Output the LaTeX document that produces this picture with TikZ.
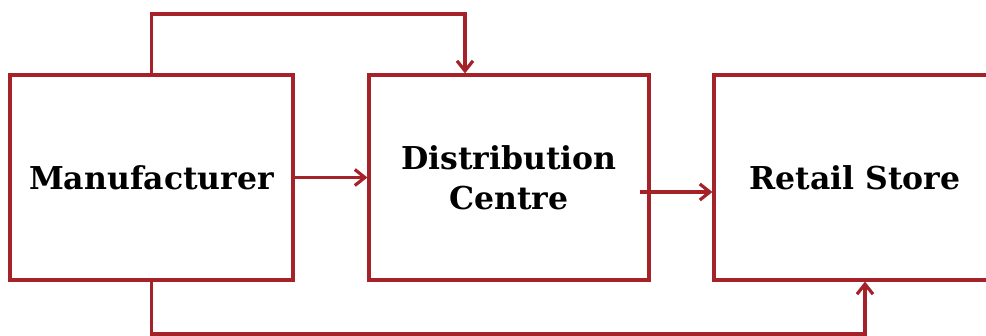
\documentclass[tikz,border=0pt]{standalone}
\usepackage{fontspec}
\setmainfont{DejaVu Serif}
\usetikzlibrary{arrows.meta}
\definecolor{boxred}{RGB}{165,35,40}
\begin{document}
\begin{tikzpicture}[x=1pt,y=-1pt,
  blk/.style={draw=boxred, line width=3.2pt, minimum height=205pt, inner sep=0pt,
    align=center, font=\fontsize{31.5}{40}\selectfont\bfseries},
  arr/.style={draw=boxred, line width=3.2pt, -{Straight Barb[length=10pt,width=16pt]}}]
\useasboundingbox (0,0) rectangle (986,336);
\clip (0,0) rectangle (986,336);
\node[blk, minimum width=283pt] (M) at (151.5,177.5) {Manufacturer};
\node[blk, minimum width=280pt] (D) at (509,177.5) {Distribution\\Centre};
\node[blk, minimum width=282pt] (R) at (855,177.5) {Retail Store};
\coordinate (t1) at (465,14);
\coordinate (a2) at (640,192);
\coordinate (b1) at (865,334);
\draw[arr] (M.north) |- (t1) -- (t1 |- D.north);
\draw[arr] (M.east) -- (D.west);
\draw[arr] (a2) -- (a2 -| R.west);
\draw[arr] (M.south) |- (b1) -- (b1 |- R.south);
\end{tikzpicture}
\end{document}
